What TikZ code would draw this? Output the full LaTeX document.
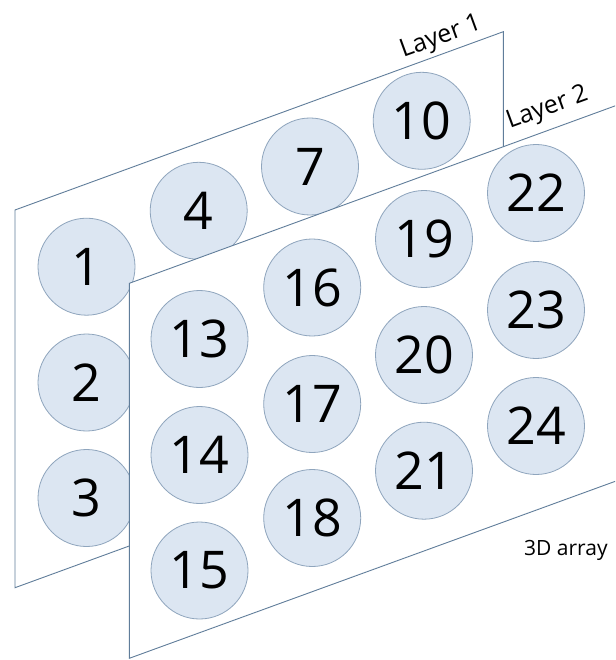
\documentclass[tikz,border=0pt]{standalone}
\usepackage{fontspec}
\setmainfont{Open Sans}
\definecolor{linecol}{HTML}{607D9A}
\definecolor{cborder}{HTML}{8FA5BD}
\definecolor{cfill}{HTML}{DCE6F2}
\tikzset{
  cell/.style={circle, draw=cborder, fill=cfill, line width=0.8pt, minimum size=97pt, inner sep=0pt, font=\fontsize{52}{52}\selectfont},
  layer/.style={draw=linecol, fill=white, line width=0.9pt, line join=miter},
  lbl/.style={inner sep=0pt, font=\fontsize{25}{25}\selectfont, anchor=base west},
  captxt/.style={inner sep=0pt, font=\fontsize{21}{21}\selectfont, anchor=base west}
}
\begin{document}
\begin{tikzpicture}[x=1pt, y=-1pt]
\useasboundingbox (0,0) rectangle (615,660);
\clip (0,0) rectangle (615,660);
% Layer 1
\coordinate (a1) at (15,210);
\coordinate (b1) at (503.3,31.7);
\coordinate (c1) at (503.3,409.4);
\coordinate (d1) at (15,587.7);
\draw[layer] (a1) -- (b1) -- (c1) -- (d1) -- cycle;
\node[cell] (n1) at (86.5,266.7) {1};
\node[cell] (n2) at (86.5,382.5) {2};
\node[cell] (n3) at (86.5,498) {3};
\node[cell] (n4) at (198.7,210.8) {4};
\node[cell] (n7) at (310,166.5) {7};
\node[cell] (n10) at (421.7,120.8) {10};
% Layer 2
\coordinate (a2) at (129.3,283.3);
\coordinate (b2) at (617.5,105);
\coordinate (c2) at (617.5,480.5);
\coordinate (d2) at (129.3,658.3);
\draw[layer] (a2) -- (b2) -- (c2) -- (d2) -- cycle;
\node[cell] (n13) at (199.5,339) {13};
\node[cell] (n14) at (199.5,455) {14};
\node[cell] (n15) at (199.5,570.5) {15};
\node[cell] (n16) at (312.2,287.5) {16};
\node[cell] (n17) at (312.2,404) {17};
\node[cell] (n18) at (312.2,518) {18};
\node[cell] (n19) at (424,239) {19};
\node[cell] (n20) at (424,355) {20};
\node[cell] (n21) at (424,470.7) {21};
\node[cell] (n22) at (536,193) {22};
\node[cell] (n23) at (536,310) {23};
\node[cell] (n24) at (536,426) {24};
% Labels
\node[lbl] (l1) at (397,58) {\rotatebox{20.05}{Layer 1}};
\node[lbl] (l2) at (503.5,129) {\rotatebox{20.05}{Layer 2}};
\node[captxt] (arr) at (524,555) {3D array};
\end{tikzpicture}
\end{document}
